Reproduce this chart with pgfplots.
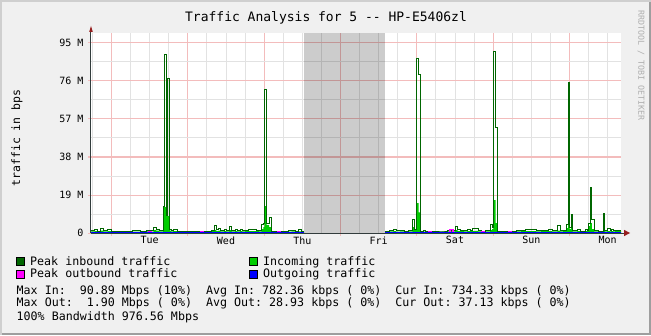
\documentclass[border=0pt]{standalone}
\usepackage{pgfplots}
\pgfplotsset{compat=1.18}
\usepackage{pgfplotstable}
\usepackage{fontspec}
\setmonofont{DejaVu Sans Mono}
\usetikzlibrary{arrows.meta}
\definecolor{bgc}{RGB}{240,240,240}
\definecolor{shA}{RGB}{207,207,207}
\definecolor{shB}{RGB}{158,158,158}
\definecolor{mgridc}{RGB}{243,188,188}
\definecolor{gridc}{RGB}{226,226,226}
\definecolor{arrowc}{RGB}{150,30,30}
\definecolor{axisc}{RGB}{50,60,60}
\definecolor{peakin}{RGB}{0,102,0}
\definecolor{inc}{RGB}{0,204,0}
\definecolor{peakout}{RGB}{255,0,255}
\definecolor{outc}{RGB}{0,0,255}
\definecolor{creditc}{RGB}{175,175,175}

\pgfplotstableread{
x in peak
91 0.8 1.2
95 1.0 1.6
98 0.7 1.0
100.5 1.2 2.2
103.5 0.8 1.2
108 1.0 1.7
112 0.6 0.9
118 0.7 1.0
125 0.6 0.9
132 0.7 1.1
140 0.6 1.0
146 0.8 1.3
150 0.7 1.2
153.5 1.5 2.8
156 1.2 2.0
159 0.8 1.2
163 13 13.5
164 13 89
166.2 8.5 9
167.3 8.5 77
169.8 1.2 2
171 0.8 1.2
173 1.0 1.8
177 0.7 1.0
183 0.6 0.9
190 0.5 0.8
196 0.6 0.9
201 0.4 0.7
206 0.6 0.9
211.7 0.9 1.5
214.3 1.5 4.0
216.3 1.0 1.6
218.3 1.2 2.3
220.3 0.8 1.2
224 1.0 1.8
226 0.8 1.1
229.3 1.4 3.2
231.5 0.8 1.2
235 1.0 2.0
237 0.8 1.1
240 1.0 1.8
242 0.8 1.2
245 0.9 1.5
248.3 1.0 2.0
251 0.9 1.6
256.7 0.9 1.5
259 0.8 1.1
261.7 2.0 4.5
263.3 3 5
264.3 13.5 71.5
266.7 4 5
269 3 7.8
271 0.5 0.8
276 0.4 0.6
283 0.5 0.7
288.3 0.7 1.2
291.7 0.8 1.3
295 0.6 1.0
298.3 0.8 1.6
301 0.6 1.0
304 0.6 1.0
}\segA

\pgfplotstableread{
x in peak
385 0.7 1.0
389 0.8 1.2
393.3 1.0 1.8
396 0.7 1.1
400 0.8 1.3
404 0.7 1.0
408 0.8 1.2
412.7 3 6.8
414.7 1.5 2.0
416.7 15 87
418.7 10.3 79
420.7 0.8 1.0
423.3 0.7 1.1
425.7 0.4 0.6
430 0.5 0.8
436 0.6 1.0
442 0.7 1.0
447 0.8 1.2
450 1.0 1.5
453 0.8 1.2
455 1.5 3.5
457.7 1.0 1.8
460.3 0.9 1.5
464 0.8 1.3
467.3 1.0 2.0
470 0.9 1.4
472 1.0 2.2
475 1.1 2.5
478 0.8 1.3
481 0.7 1.0
485 0.8 1.1
490 1.5 4.5
492 2.0 3.0
493.3 16.5 90.5
495.7 5 52.5
497 0.6 0.9
501 0.5 0.8
506 0.6 0.9
511 0.7 1.0
516 0.8 1.2
521 0.9 1.4
525 1.0 2.0
530 0.9 1.6
531.7 1.0 1.8
536 0.8 1.2
541 0.9 1.4
548 1.0 1.9
552 0.8 1.2
557.7 1.2 3.6
560 0.8 1.2
563 1.0 1.5
566 2.5 4.5
568 13 75
569.5 2.0 3.0
571 2.5 9.5
572.5 0.8 1.2
577.3 0.9 1.8
580 0.7 1.0
585 0.9 1.8
587 1.0 1.4
588.3 3.5 4.8
590 5 23
591.8 2 7
594 0.8 1.2
598 0.7 1.0
603.3 1.5 10
604.8 0.8 1.2
607.3 1.0 2.3
610 0.8 1.1
611 1.0 1.7
613 0.8 1.2
615 1.0 1.3
621 1.0 1.3
}\segB

\pgfplotstableread{
x out pout
91 0.05 0.1
149 0.05 0.6
151.5 0.05 0.1
200.5 0.05 0.8
203 0.05 0.1
277.5 0.05 0.8
280 0.05 0.1
304 0.05 0.1
}\outA

\pgfplotstableread{
x out pout
385 0.05 0.1
429 0.05 0.7
431.5 0.05 0.1
450 0.4 1.9
453 0.05 0.1
481.5 0.05 0.7
484 0.05 0.1
509 0.05 0.6
511.5 0.05 0.1
621 0.05 0.1
}\outB

\begin{document}
\begin{tikzpicture}[x=1pt,y=1pt]
\useasboundingbox (0,0) rectangle (651,335);
\fill[bgc] (0,0) rectangle (651,335);
\draw[shA, line width=2pt] (1,0) -- (1,334) -- (651,334);
\draw[shB, line width=2pt] (2,1) -- (650,1) -- (650,333);
\fill[white] (91,102) rectangle (621,302);

\node[font=\ttfamily\fontsize{13}{15}\selectfont, anchor=base] at (326,313) {Traffic Analysis for 5 -{}- HP-E5406zl};
\node[font=\ttfamily\fontsize{11.5}{13}\selectfont, rotate=90, anchor=center] at (17,197) {traffic in bps};
\node[font=\ttfamily\fontsize{8.3}{10}\selectfont, rotate=-90, anchor=west, text=creditc] at (641,328) {RRDTOOL / TOBI OETIKER};

\begin{axis}[
  at={(91pt,102pt)}, anchor=south west,
  scale only axis, width=530pt, height=200pt,
  xmin=91, xmax=621, ymin=0, ymax=100,
  axis line style={draw=none},
  clip mode=individual,
  tick align=outside, tick pos=left,
  major tick length=3pt, minor tick length=0pt,
  major tick style={mgridc, line width=1pt},
  xtick={111.5,187.83,264.17,340.5,416.83,493.17,569.5},
  xticklabels={},
  minor xtick={92.42,130.58,149.67,168.75,206.92,226,245.08,283.25,302.33,321.42,359.58,378.67,397.75,435.92,455,474.08,512.25,531.33,550.42,588.58,607.67},
  extra x ticks={149.67,226,302.33,378.67,455,531.33,607.67},
  extra x tick labels={Tue,Wed,Thu,Fri,Sat,Sun,Mon},
  extra x tick style={xmajorgrids=false, xminorgrids=false, major tick length=0pt},
  ytick={0,19,38,57,76,95},
  yticklabels={0,19 M,38 M,57 M,76 M,95 M},
  minor ytick={9.5,28.5,47.5,66.5,85.5},
  xmajorgrids, xminorgrids, ymajorgrids, yminorgrids,
  major grid style={mgridc, line width=1pt},
  minor grid style={gridc, line width=1pt},
  ticklabel style={font=\ttfamily\fontsize{10}{12}\selectfont, text=black},
  xticklabel style={yshift=0pt},
  yticklabel style={xshift=-1pt},
]
\fill[black, opacity=0.2] (axis cs:304,0) rectangle (axis cs:385,100);
\draw[axisc, line width=1pt] (axis cs:91,0) -- (axis cs:626,0);
\draw[axisc, line width=1pt] (axis cs:91,0) -- (axis cs:91,100.5);
\addplot[const plot, fill=inc, draw=none] table[x=x, y=in]{\segA} \closedcycle;
\addplot[const plot, fill=inc, draw=none] table[x=x, y=in]{\segB} \closedcycle;
\addplot[const plot, peakin, line width=1pt] table[x=x, y=peak]{\segA};
\addplot[const plot, peakin, line width=1pt] table[x=x, y=peak]{\segB};
\addplot[const plot, peakout, line width=1.2pt] table[x=x, y=pout]{\outA};
\addplot[const plot, peakout, line width=1.2pt] table[x=x, y=pout]{\outB};
\addplot[const plot, outc, line width=1pt] table[x=x, y=out]{\outA};
\addplot[const plot, outc, line width=1pt] table[x=x, y=out]{\outB};
\fill[arrowc] (axis cs:624,1.6) -- (axis cs:630,0) -- (axis cs:624,-1.6) -- cycle;
\fill[arrowc] (axis cs:89.2,100.5) -- (axis cs:91,103.5) -- (axis cs:92.8,100.5) -- cycle;
\end{axis}

% legend
\begin{scope}[font=\ttfamily\fontsize{11.65}{13}\selectfont]
\filldraw[fill=peakin, draw=black, line width=0.6pt] (16.5,70) rectangle (24.5,78);
\node[anchor=base west, inner sep=0pt] at (30,70) {Peak inbound traffic};
\filldraw[fill=inc, draw=black, line width=0.6pt] (249.5,70) rectangle (257.5,78);
\node[anchor=base west, inner sep=0pt] at (263,70) {Incoming traffic};
\filldraw[fill=peakout, draw=black, line width=0.6pt] (16.5,57) rectangle (24.5,65);
\node[anchor=base west, inner sep=0pt] at (30,57) {Peak outbound traffic};
\filldraw[fill=outc, draw=black, line width=0.6pt] (249.5,57) rectangle (257.5,65);
\node[anchor=base west, inner sep=0pt] at (263,57) {Outgoing traffic};
\node[anchor=base west, inner sep=0pt] at (16.5,41) {Max In:~~90.89 Mbps (10\%)~~Avg In: 782.36 kbps (~0\%)~~Cur In: 734.33 kbps (~0\%)};
\node[anchor=base west, inner sep=0pt] at (16.5,28) {Max Out:~~1.90 Mbps (~0\%)~~Avg Out: 28.93 kbps (~0\%)~~Cur Out: 37.13 kbps (~0\%)};
\node[anchor=base west, inner sep=0pt] at (16.5,15) {100\% Bandwidth 976.56 Mbps};
\end{scope}
\end{tikzpicture}
\end{document}
